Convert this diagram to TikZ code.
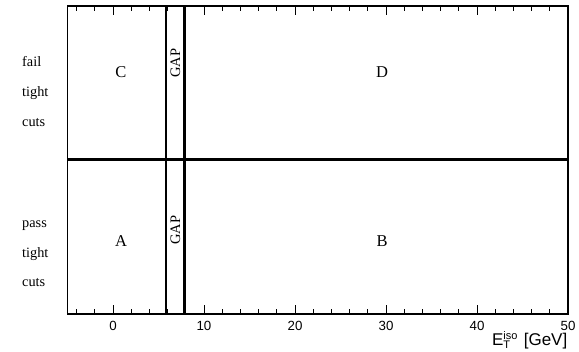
\documentclass[tikz,border=0pt]{standalone}
\usepackage{fontspec}
\setmainfont{Liberation Serif}
\newfontfamily\axisfont{Liberation Sans}
\newcommand{\smallax}{\axisfont\fontsize{11}{11}\selectfont}
\begin{document}
\begin{tikzpicture}[x=1pt,y=-1pt,
  frame/.style={line width=1.3pt},
  cutline/.style={line width=2.6pt},
  tickline/.style={line width=0.8pt},
  region/.style={font=\fontsize{16.5}{16.5}\selectfont, inner sep=0pt},
  sidelab/.style={font=\fontsize{14.3}{14.3}\selectfont, anchor=base west, inner sep=0pt},
  gaplab/.style={font=\fontsize{14.5}{14.5}\selectfont, rotate=90, inner sep=0pt},
  ticklab/.style={font=\axisfont\fontsize{13.3}{13.3}\selectfont, anchor=base, inner sep=0pt}]
\useasboundingbox (0,0) rectangle (579,352);
% frame corners
\coordinate (tl) at (67.5,6);
\coordinate (br) at (568,314);
\draw[frame] (tl) rectangle (br);
% ticks
\foreach \v in {-4,-2,...,50}{
  \pgfmathsetmacro{\px}{113+9.1*\v}
  \pgfmathsetmacro{\len}{ifthenelse(mod(\v,10)==0,9,5)}
  \draw[tickline] (\px,314) -- (\px,314-\len);
  \draw[tickline] (\px,6) -- (\px,6+\len);
}
\foreach \v in {0,10,20,30,40,50}{
  \pgfmathsetmacro{\px}{113+9.1*\v}
  \node[ticklab] (t\v) at (\px,331) {\v};
}
% cut lines
\coordinate (hl) at (67.5,159.5);
\coordinate (hr) at (568,159.5);
\coordinate (g1t) at (166,6);
\coordinate (g1b) at (166,314);
\coordinate (g2t) at (184.5,6);
\coordinate (g2b) at (184.5,314);
\draw[cutline] (hl) -- (hr);
\draw[cutline] (g1t) -- (g1b);
\draw[cutline] (g2t) -- (g2b);
% region labels
\node[region] (C) at (121,72) {C};
\node[region] (D) at (382,72) {D};
\node[region] (A) at (121,241) {A};
\node[region] (B) at (382,241) {B};
\node[gaplab] (gapT) at (175.5,63) {GAP};
\node[gaplab] (gapB) at (175.5,230) {GAP};
% side labels
\node[sidelab] (fail) at (22,67) {fail};
\node[sidelab] (tight1) at (22,97) {tight};
\node[sidelab] (cuts1) at (22,126.5) {cuts};
\node[sidelab] (pass) at (22,228) {pass};
\node[sidelab] (tight2) at (22,257.5) {tight};
\node[sidelab] (cuts2) at (22,287) {cuts};
% axis title
\node[font=\axisfont\fontsize{17}{17}\selectfont, anchor=base east, inner sep=0pt] (xtitle) at (567.5,345.5) {E\rlap{\raisebox{6pt}{\smallax iso}}\raisebox{-3pt}{\smallax T}\hspace{9pt} [GeV]};
\end{tikzpicture}
\end{document}
